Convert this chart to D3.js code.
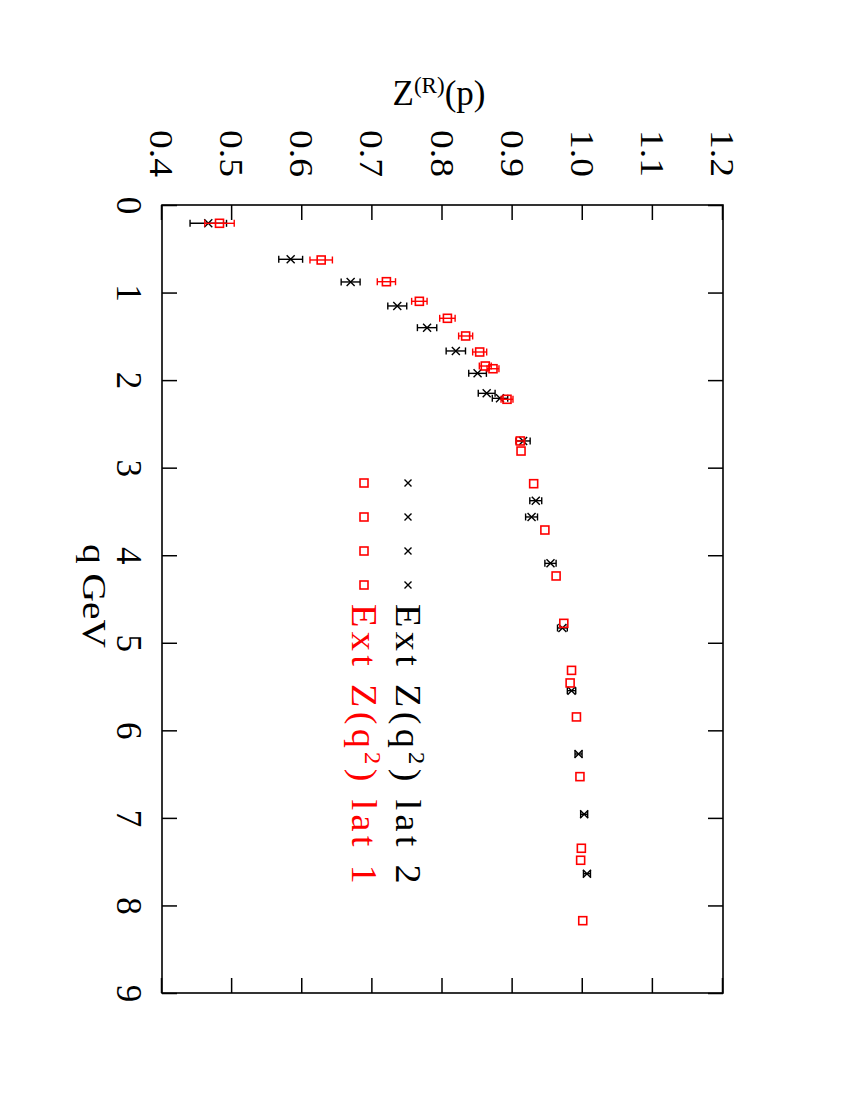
<!DOCTYPE html>
<html>
<head>
<meta charset="utf-8">
<script src="https://cdn.jsdelivr.net/npm/d3@7"></script>
<style>
  body { margin: 0; background: #fff; }
  text { font-family: "Liberation Serif", "DejaVu Serif", serif; }
</style>
</head>
<body>
<div id="chart"></div>
<script>
// lattice 2 (black crosses): q in GeV, Z value, error
var q2 = [0.209, 0.62, 0.879, 1.153, 1.401, 1.667, 1.923, 2.151, 2.208, 2.695,
          3.377, 3.563, 4.093, 4.831, 5.547, 6.27, 6.959, 7.637];
var z2 = [0.466, 0.5835, 0.669, 0.7355, 0.778, 0.819, 0.850, 0.863, 0.882, 0.915,
          0.933, 0.927, 0.954, 0.971, 0.984, 0.994, 1.002, 1.006];
var e2 = [0.026, 0.017, 0.0135, 0.0135, 0.0138, 0.0138, 0.0126, 0.012, 0.011, 0.010,
          0.0085, 0.0085, 0.008, 0.007, 0.006, 0.005, 0.005, 0.005];

// lattice 1 (red squares)
var q1 = [0.209, 0.628, 0.876, 1.10, 1.294, 1.496, 1.679, 1.839, 1.87, 2.219,
          2.695, 2.81, 3.183, 3.712, 4.237, 4.778, 5.315, 5.459, 5.847, 6.529,
          7.347, 7.484, 8.174];
var z1 = [0.482, 0.627, 0.720, 0.767, 0.807, 0.833, 0.853, 0.861, 0.872, 0.892,
          0.911, 0.912, 0.930, 0.946, 0.962, 0.973, 0.984, 0.982, 0.991, 0.996,
          0.998, 0.997, 1.000];
var e1 = [0.021, 0.016, 0.013, 0.011, 0.011, 0.010, 0.010, 0.0085, 0.0085, 0.0085,
          0.006, 0, 0, 0, 0, 0, 0, 0, 0, 0,
          0, 0, 0];

var qTicks = [0, 1, 2, 3, 4, 5, 6, 7, 8, 9];
var zTicks = [0.4, 0.5, 0.6, 0.7, 0.8, 0.9, 1.0, 1.1, 1.2];

var series = [
  {name: 'lat 2', color: '#000', symbol: 'cross', q: q2, z: z2, e: e2},
  {name: 'lat 1', color: '#ff0000', symbol: 'square', q: q1, z: z1, e: e1}
];

// the plot is drawn in landscape and turned a quarter clockwise on the page
var width = 788, height = 561;

var svg = d3.select('#chart').append('svg')
    .attr('width', 850)
    .attr('height', 1100);

var xScale = d3.scaleLinear().domain([0, 9]).range([0, width]);
var yScale = d3.scaleLinear().domain([0.4, 1.2]).range([height, 0]);

var g = svg.append('g')
    .attr('transform', 'translate(723,205) rotate(90)');

function styleAxis(sel) {
  sel.select('.domain').remove();
  sel.selectAll('line').attr('stroke', '#000').attr('stroke-width', 1.5);
}

// q axis, bottom (labels) and top (ticks only)
g.append('g')
    .attr('transform', 'translate(0,' + height + ')')
    .call(d3.axisBottom(xScale).tickValues(qTicks).tickSizeInner(-15).tickSizeOuter(0)
      .tickFormat(d3.format('d')))
    .call(styleAxis)
    .call(function(s) {
      s.selectAll('text')
        .attr('y', 45)
        .attr('dy', null)
        .attr('fill', '#000')
        .style('font-size', '35px');
    });

g.append('g')
    .call(d3.axisTop(xScale).tickValues(qTicks).tickSizeInner(-15).tickSizeOuter(0).tickFormat(''))
    .call(styleAxis);

// Z axis, left (labels) and right (ticks only)
g.append('g')
    .call(d3.axisLeft(yScale).tickValues(zTicks).tickSizeInner(-15).tickSizeOuter(0)
      .tickFormat(d3.format('.1f')))
    .call(styleAxis)
    .call(function(s) {
      s.selectAll('text')
        .attr('x', -51.5)
        .attr('y', 11.5)
        .attr('dy', null)
        .attr('text-anchor', 'middle')
        .attr('fill', '#000')
        .attr('textLength', 47)
        .attr('lengthAdjust', 'spacingAndGlyphs')
        .style('font-size', '34px');
    });

g.append('g')
    .attr('transform', 'translate(' + width + ',0)')
    .call(d3.axisRight(yScale).tickValues(zTicks).tickSizeInner(-15).tickSizeOuter(0).tickFormat(''))
    .call(styleAxis);

g.append('rect')
    .attr('width', width)
    .attr('height', height)
    .attr('fill', 'none')
    .attr('stroke', '#000')
    .attr('stroke-width', 1.6);

g.append('text')
    .attr('x', width / 2 - 3)
    .attr('y', 640)
    .attr('text-anchor', 'middle')
    .attr('textLength', 104)
    .attr('lengthAdjust', 'spacingAndGlyphs')
    .style('font-size', '34px')
    .text('q GeV');

function drawSymbol(sel, symbol, color, r) {
  if (symbol === 'cross') {
    sel.append('path')
        .attr('d', 'M' + -r + ',' + -r + 'L' + r + ',' + r + 'M' + -r + ',' + r + 'L' + r + ',' + -r)
        .attr('stroke', color)
        .attr('stroke-width', 1.4)
        .attr('fill', 'none');
  } else {
    sel.append('rect')
        .attr('x', -4).attr('y', -4)
        .attr('width', 8).attr('height', 8)
        .attr('stroke', color)
        .attr('stroke-width', 1.6)
        .attr('fill', 'none');
  }
}

series.forEach(function(s) {
  var pts = s.q.map(function(q, i) { return {q: q, z: s.z[i], e: s.e[i]}; });
  var grp = g.append('g');

  var bars = grp.selectAll('.err')
      .data(pts.filter(function(d) { return d.e > 0; }))
    .enter().append('g')
      .attr('class', 'err')
      .attr('transform', function(d) { return 'translate(' + xScale(d.q) + ',0)'; })
      .attr('stroke', s.color)
      .attr('stroke-width', 1.4);
  bars.append('line')
      .attr('y1', function(d) { return yScale(d.z - d.e); })
      .attr('y2', function(d) { return yScale(d.z + d.e); });
  bars.append('line')
      .attr('x1', -3.5).attr('x2', 3.5)
      .attr('y1', function(d) { return yScale(d.z - d.e); })
      .attr('y2', function(d) { return yScale(d.z - d.e); });
  bars.append('line')
      .attr('x1', -3.5).attr('x2', 3.5)
      .attr('y1', function(d) { return yScale(d.z + d.e); })
      .attr('y2', function(d) { return yScale(d.z + d.e); });

  grp.selectAll('.pt')
      .data(pts)
    .enter().append('g')
      .attr('class', 'pt')
      .attr('transform', function(d) { return 'translate(' + xScale(d.q) + ',' + yScale(d.z) + ')'; })
      .each(function() { drawSymbol(d3.select(this), s.symbol, s.color, 4); });
});

// legend
var legend = g.selectAll('.legend')
    .data(series)
  .enter().append('g')
    .attr('class', 'legend')
    .attr('transform', function(d, i) { return 'translate(0,' + (315 + i * 44) + ')'; });

legend.each(function(s) {
  var lg = d3.select(this);
  d3.range(4).forEach(function(k) {
    var m = lg.append('g').attr('transform', 'translate(' + (278 + k * 34) + ',0)');
    drawSymbol(m, s.symbol, s.color, 3.5);
  });
  var t = lg.append('text')
      .attr('x', 399)
      .attr('y', 12)
      .attr('fill', s.color)
      .attr('textLength', 284)
      .attr('lengthAdjust', 'spacingAndGlyphs')
      .style('letter-spacing', '4px')
      .style('font-size', '36px');
  t.append('tspan').text('Ext Z(q');
  t.append('tspan').attr('dy', -13).style('font-size', '23px').text('2');
  t.append('tspan').attr('dy', 13).text(') ' + s.name);
});

// Z axis title, upright on the page
var title = svg.append('text')
    .attr('x', 439)
    .attr('y', 105)
    .attr('text-anchor', 'middle')
    .style('font-size', '35px');
title.append('tspan').text('Z');
title.append('tspan').attr('dy', -12).style('font-size', '23px').text('(R)');
title.append('tspan').attr('dy', 12).text('(p)');
</script>
</body>
</html>
